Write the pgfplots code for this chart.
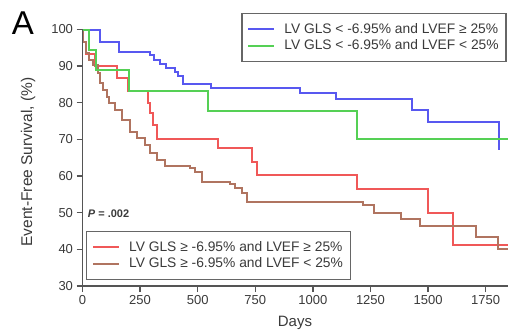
\documentclass[border=0pt]{standalone}
\usepackage{pgfplots}
\pgfplotsset{compat=1.18}
\usepackage{fontspec}
\setmainfont{Liberation Sans}
\definecolor{cblue}{HTML}{5858F0}
\definecolor{cgreen}{HTML}{55D055}
\definecolor{cred}{HTML}{F05858}
\definecolor{cbrown}{HTML}{B07460}
\definecolor{axgray}{HTML}{555555}
\definecolor{txtgray}{HTML}{3A3A3A}
\begin{document}
\begin{tikzpicture}
\path[use as bounding box] (0,0) rectangle (508pt,333pt);
\pgfplotsset{
  base/.style={
    at={(82.5pt,47pt)}, anchor=south west,
    scale only axis, width=425.5pt, height=256.5pt,
    xmin=0, xmax=1847, ymin=30, ymax=100,
    clip=false,
    axis x line=bottom, axis y line=left,
    x axis line style={-}, y axis line style={-},
    axis line style={line width=1.6pt, axgray},
    xtick={0,250,...,1750}, ytick={30,40,...,100},
    tick align=outside, major tick length=6pt,
    tick style={line width=1.4pt, axgray},
    /pgf/number format/assume math mode=true,
    /pgf/number format/1000 sep={},
    tick label style={font=\fontsize{13}{13}\selectfont, text=txtgray},
    legend cell align=left,
    legend image code/.code={\draw[##1] (0pt,0pt) -- (26pt,0pt); \path (33pt,0pt);},
    legend style={font=\fontsize{13.8}{14}\selectfont, text=txtgray,
      draw=black!60, line width=1.4pt, inner xsep=5.5pt, inner ysep=8pt,
      row sep=1pt},
  }
}
\begin{axis}[base, hide axis,
  legend style={at={(axis cs:15,31.6)}, anchor=south west}]
\addplot[const plot, cred, line width=2pt] coordinates {
(0,100) (2,96.7) (15,93.3) (55,90.0) (148,86.7) (199,83.3) (284,80.0) (292,77.1) (305,73.9) (322,70.2) (588,67.6) (734,63.8) (757,60.2) (1190,56.6) (1499,50.0) (1609,41.2) (1847,41.2)};
\addlegendentry{LV GLS ≥ -6.95\% and LVEF ≥ 25\%}
\addplot[const plot, cbrown, line width=2pt] coordinates {
(0,100) (1,96.7) (15,93.5) (30,91.7) (47,90.3) (69,88.0) (76,85.3) (90,83.5) (105,81.7) (115,80.0) (141,78.0) (170,75.3) (206,72.1) (235,70.5) (271,68.5) (293,66.2) (322,64.4) (358,62.8) (467,62.1) (488,61.0) (517,58.5) (640,57.8) (662,56.7) (691,55.3) (713,53.0) (1219,52.0) (1265,49.8) (1382,48.3) (1465,46.5) (1708,43.4) (1802,40.2) (1847,40.2)};
\addlegendentry{LV GLS ≥ -6.95\% and LVEF < 25\%}
\end{axis}
\begin{axis}[base,
  legend style={at={(axis cs:1842,104.6)}, anchor=north east}]
\addplot[const plot, cblue, line width=2pt] coordinates {
(0,100) (76,96.7) (158,93.9) (292,93.0) (310,91.8) (335,90.7) (364,89.5) (400,88.5) (414,87.4) (436,85.2) (556,83.9) (944,82.6) (1100,80.9) (1430,77.9) (1499,74.8) (1809,67.1)};
\addlegendentry{LV GLS < -6.95\% and LVEF ≥ 25\%}
\addplot[const plot, cgreen, line width=2pt] coordinates {
(0,100) (28,94.4) (57,88.9) (203,83.3) (545,77.8) (1192,70.0) (1847,70.0)};
\addlegendentry{LV GLS < -6.95\% and LVEF < 25\%}
\node[anchor=west, font=\fontsize{11}{11}\selectfont\bfseries, text=txtgray] at (axis cs:8,49.6) {\textit{P} = .002};
\end{axis}
\node[text=black] at (23pt,310pt) {\fontsize{33}{33}\selectfont A};
\node[rotate=90, text=txtgray] at (28pt,171pt) {\fontsize{15.5}{16}\selectfont Event-Free Survival, (\%)};
\node[text=txtgray] at (295pt,10pt) {\fontsize{15}{16}\selectfont Days};
\end{tikzpicture}
\end{document}
